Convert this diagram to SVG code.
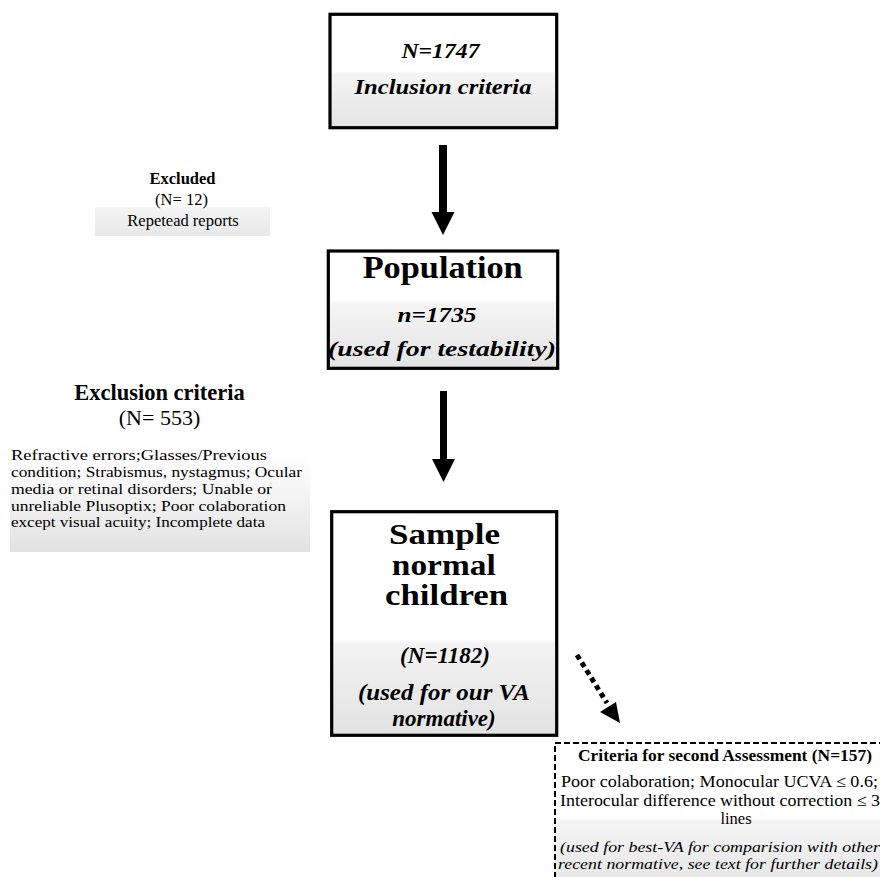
<svg xmlns="http://www.w3.org/2000/svg" width="880" height="877" viewBox="0 0 880 877">
<style>
.box{stroke:#000;stroke-width:3.2}
.dash{fill:url(#g4);stroke:#000;stroke-width:2;stroke-dasharray:6 3}
text{font-family:"Liberation Serif","Times New Roman",serif;fill:#000;text-anchor:middle}
.bi{font-weight:bold;font-style:italic}
.b{font-weight:bold}
.it{font-style:italic}
.l{text-anchor:start}
.arrow{fill:#000}
</style>
<defs>
<linearGradient id="g1" x1="0" y1="0" x2="0" y2="1"><stop offset="0" stop-color="#fff"/><stop offset="0.5" stop-color="#fff"/><stop offset="0.52" stop-color="#f5f5f5"/><stop offset="1" stop-color="#e3e3e3"/></linearGradient>
<linearGradient id="g2" x1="0" y1="0" x2="0" y2="1"><stop offset="0" stop-color="#fff"/><stop offset="0.42" stop-color="#fff"/><stop offset="0.44" stop-color="#f5f5f5"/><stop offset="1" stop-color="#e3e3e3"/></linearGradient>
<linearGradient id="g3" x1="0" y1="0" x2="0" y2="1"><stop offset="0" stop-color="#fff"/><stop offset="0.57" stop-color="#fff"/><stop offset="0.59" stop-color="#f3f3f3"/><stop offset="1" stop-color="#e2e2e2"/></linearGradient>
<linearGradient id="g4" x1="0" y1="0" x2="0" y2="1"><stop offset="0" stop-color="#fff"/><stop offset="0.5" stop-color="#fff"/><stop offset="0.52" stop-color="#f4f4f4"/><stop offset="1" stop-color="#e4e4e4"/></linearGradient>
<linearGradient id="gbar" x1="0" y1="0" x2="0" y2="1"><stop offset="0" stop-color="#f4f4f4"/><stop offset="1" stop-color="#e8e8e8"/></linearGradient>
<linearGradient id="gpar" x1="0" y1="0" x2="0" y2="1"><stop offset="0" stop-color="#fff"/><stop offset="0.25" stop-color="#fcfcfc"/><stop offset="1" stop-color="#e2e2e2"/></linearGradient>
</defs>

<g id="inclusion">
<rect class="box" x="330" y="14.3" width="226.7" height="113.4" fill="url(#g1)"/>
<text class="bi" x="440.5" y="58" font-size="22" textLength="78" lengthAdjust="spacingAndGlyphs">N=1747</text>
<text class="bi" x="443" y="94" font-size="22" textLength="177" lengthAdjust="spacingAndGlyphs">Inclusion criteria</text>
</g>

<g id="excluded">
<rect x="95" y="207" width="175" height="29" fill="url(#gbar)"/>
<text class="b" x="182.5" y="184" font-size="16.5">Excluded</text>
<text x="181.5" y="205" font-size="16.5">(N= 12)</text>
<text x="183" y="226" font-size="16.5">Repetead reports</text>
</g>

<g id="population">
<rect class="box" x="328.3" y="251" width="229.4" height="117.3" fill="url(#g2)"/>
<text class="b" x="442.7" y="278" font-size="32" textLength="160" lengthAdjust="spacingAndGlyphs">Population</text>
<text class="bi" x="437" y="322" font-size="22" textLength="79" lengthAdjust="spacingAndGlyphs">n=1735</text>
<text class="bi" x="442" y="356" font-size="22" textLength="228" lengthAdjust="spacingAndGlyphs">(used for testability)</text>
</g>

<g id="exclusion-criteria">
<rect x="10" y="440" width="300" height="112" fill="url(#gpar)"/>
<text class="b" x="159.5" y="400" font-size="22.5">Exclusion criteria</text>
<text x="159.5" y="425" font-size="22">(N= 553)</text>
<text class="l" x="11" y="460" font-size="15.2" textLength="256" lengthAdjust="spacingAndGlyphs">Refractive errors;Glasses/Previous</text>
<text class="l" x="11" y="477" font-size="15.2" textLength="291" lengthAdjust="spacingAndGlyphs">condition; Strabismus, nystagmus; Ocular</text>
<text class="l" x="11" y="494" font-size="15.2" textLength="261" lengthAdjust="spacingAndGlyphs">media or retinal disorders; Unable or</text>
<text class="l" x="11" y="510.5" font-size="15.2" textLength="275" lengthAdjust="spacingAndGlyphs">unreliable Plusoptix; Poor colaboration</text>
<text class="l" x="11" y="527" font-size="15.2" textLength="254" lengthAdjust="spacingAndGlyphs">except visual acuity; Incomplete data</text>
</g>

<g id="sample">
<rect class="box" x="331.7" y="511.7" width="225" height="223.6" fill="url(#g3)"/>
<text class="b" x="444.6" y="544" font-size="30" textLength="111" lengthAdjust="spacingAndGlyphs">Sample</text>
<text class="b" x="443.8" y="574.5" font-size="30" textLength="104" lengthAdjust="spacingAndGlyphs">normal</text>
<text class="b" x="446.6" y="605" font-size="30" textLength="123" lengthAdjust="spacingAndGlyphs">children</text>
<text class="bi" x="445" y="663" font-size="23">(N=1182)</text>
<text class="bi" x="444" y="700" font-size="23" textLength="172" lengthAdjust="spacingAndGlyphs">(used for our VA</text>
<text class="bi" x="444" y="726" font-size="23">normative)</text>
</g>

<g id="second-assessment">
<rect class="dash" x="555" y="743" width="345" height="150"/>
<text class="b" x="725" y="761" font-size="16.5" textLength="294" lengthAdjust="spacingAndGlyphs">Criteria for second Assessment (N=157)</text>
<text x="719.5" y="786.5" font-size="16.5" textLength="317" lengthAdjust="spacingAndGlyphs">Poor colaboration; Monocular UCVA ≤ 0.6;</text>
<text x="720" y="806" font-size="16.5" textLength="320" lengthAdjust="spacingAndGlyphs">Interocular difference without correction ≤ 3</text>
<text x="736" y="824" font-size="16.5">lines</text>
<text class="it" x="720" y="851.5" font-size="15.5" textLength="320" lengthAdjust="spacingAndGlyphs">(used for best-VA for comparision with other</text>
<text class="it" x="718" y="869" font-size="15.5" textLength="320" lengthAdjust="spacingAndGlyphs">recent normative, see text for further details)</text>
</g>

<g id="connectors">
<polygon class="arrow" points="439,145 447,145 447,212 454.5,212 443,235 431.5,212 439,212"/>
<polygon class="arrow" points="440,391 447,391 447,459 455,459 443.5,482 432,459 440,459"/>
<line x1="577" y1="655" x2="607" y2="703" stroke="#000" stroke-width="5" stroke-dasharray="5 4"/>
<polygon class="arrow" points="600,712 616,702 620,723"/>
</g>
</svg>
